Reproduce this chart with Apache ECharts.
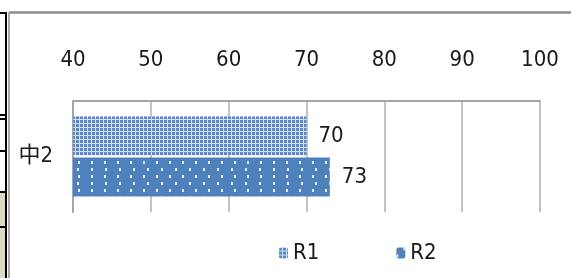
<!DOCTYPE html>
<html>
<head>
<meta charset="utf-8">
<script src="https://cdn.jsdelivr.net/npm/echarts@6/dist/echarts.min.js"></script>
<style>
html,body{margin:0;padding:0;background:#fff;}
#main{width:571px;height:278px;}
</style>
</head>
<body>
<div id="main"></div>
<script>
// 数据
var categories = ['中2'];
var seriesNames = ['R1', 'R2'];
var r1Values = [70];
var r2Values = [73];
var xTicks = [40, 50, 60, 70, 80, 90, 100];

// 窄字体：fontWeight 里放 condensed，拼进 canvas font 串里当 font-stretch 用
var fam = "'DejaVu Sans', 'Noto Sans CJK SC', sans-serif";
var stretch = 'condensed';
var textColor = '#1a1a1a';

var myChart = echarts.init(document.getElementById('main'));
var option = {
    backgroundColor: '#fff',
    animation: false,
    grid: {
        left: 73,
        right: 31,
        top: 101,
        bottom: 66
    },
    legend: {
        data: seriesNames,
        left: 274,
        top: 237,
        itemWidth: 9,
        itemHeight: 11,
        itemGap: 77,
        textStyle: { color: textColor, fontSize: 22, fontFamily: fam, fontWeight: stretch }
    },
    xAxis: {
        type: 'value',
        position: 'top',
        min: xTicks[0],
        max: xTicks[xTicks.length - 1],
        interval: 10,
        axisLine: { show: true, lineStyle: { color: '#a6a6a6', width: 2 } },
        axisTick: { show: false },
        axisLabel: { color: textColor, fontSize: 22, margin: 30, fontFamily: fam, fontWeight: stretch },
        splitLine: { show: true, lineStyle: { color: '#c4c4c4', width: 2 } }
    },
    yAxis: {
        type: 'category',
        inverse: true,
        data: categories,
        axisLine: { show: true, lineStyle: { color: '#a6a6a6', width: 2 } },
        axisTick: { show: false },
        axisLabel: { color: textColor, fontSize: 22, margin: 20, fontFamily: fam, fontWeight: stretch }
    },
    series: [
        {
            name: seriesNames[0],
            type: 'bar',
            data: r1Values,
            barWidth: 39,
            barGap: '5%',
            itemStyle: {
                color: '#d3dff2',
                decal: {
                    symbol: 'rect',
                    symbolSize: 1,
                    dashArrayX: [2.5, 1],
                    dashArrayY: [2.5, 1],
                    rotation: 0,
                    color: '#5a88c8'
                }
            },
            label: { show: true, position: 'right', distance: 12, color: textColor, fontSize: 22, fontFamily: fam, fontWeight: stretch }
        },
        {
            name: seriesNames[1],
            type: 'bar',
            data: r2Values,
            barWidth: 39,
            itemStyle: {
                color: '#4f81bd',
                decal: {
                    symbol: 'rect',
                    symbolSize: 1,
                    dashArrayX: [[2, 11], [0, 6.5, 2, 4.5]],
                    dashArrayY: [3, 4],
                    rotation: 0,
                    color: 'rgba(255,255,255,0.85)'
                }
            },
            label: { show: true, position: 'right', distance: 12, color: textColor, fontSize: 22, fontFamily: fam, fontWeight: stretch }
        }
    ],
    // 外框和左边表格残线
    graphic: [
        { type: 'line', shape: { x1: 9, y1: 12.5, x2: 571, y2: 12.5 }, style: { stroke: '#8c8c8c', lineWidth: 2.5 } },
        { type: 'line', shape: { x1: 9, y1: 12, x2: 9, y2: 278 }, style: { stroke: '#a8a8a8', lineWidth: 2 } },
        { type: 'rect', shape: { x: 0, y: 192, width: 5, height: 86 }, style: { fill: '#ddd8c4' } },
        { type: 'line', shape: { x1: 6, y1: 12, x2: 6, y2: 278 }, style: { stroke: '#000', lineWidth: 2 } },
        { type: 'line', shape: { x1: 0, y1: 13, x2: 6, y2: 13 }, style: { stroke: '#000', lineWidth: 2 } },
        { type: 'line', shape: { x1: 0, y1: 115, x2: 6, y2: 115 }, style: { stroke: '#000', lineWidth: 2 } },
        { type: 'line', shape: { x1: 0, y1: 119, x2: 6, y2: 119 }, style: { stroke: '#000', lineWidth: 2 } },
        { type: 'line', shape: { x1: 0, y1: 151, x2: 6, y2: 151 }, style: { stroke: '#000', lineWidth: 2 } },
        { type: 'line', shape: { x1: 0, y1: 192, x2: 6, y2: 192 }, style: { stroke: '#000', lineWidth: 2 } },
        { type: 'line', shape: { x1: 0, y1: 227, x2: 6, y2: 227 }, style: { stroke: '#000', lineWidth: 2 } }
    ]
};
myChart.setOption(option);
</script>
</body>
</html>
